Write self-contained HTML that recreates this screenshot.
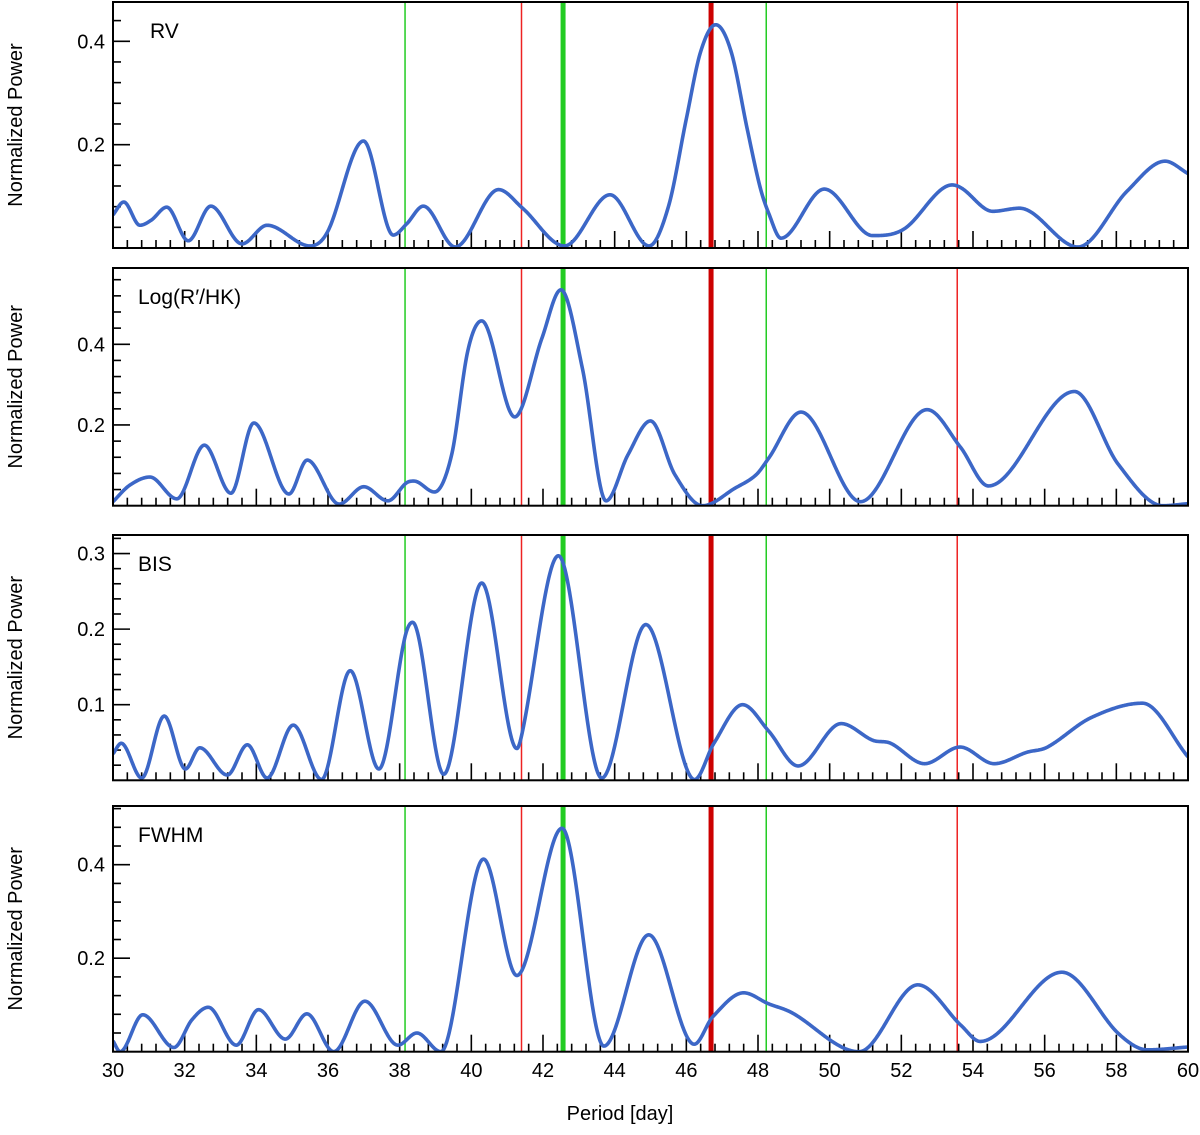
<!DOCTYPE html>
<html><head><meta charset="utf-8"><style>
html,body{margin:0;padding:0;background:#fff;}
svg{display:block;font-family:"Liberation Sans","DejaVu Sans",sans-serif;}
</style></head><body>
<svg id="chart" width="1200" height="1135" viewBox="0 0 1200 1135" xmlns="http://www.w3.org/2000/svg"></svg>
<script>
// ---- data ----
const rvPeriods = [30.0,30.3,30.75,31.07,31.5,32.1,32.73,33.6,34.3,35.5,36.0,36.99,37.82,38.2,38.66,39.55,40.76,41.43,42.6,43.87,44.96,45.5,46.0,46.4,46.82,47.25,47.7,48.05,48.3,48.64,49.85,51.2,52.08,53.42,53.7,54.55,55.3,56.93,58.3,59.36,60.0];
const rvPower   = [0.064,0.089,0.044,0.054,0.079,0.014,0.081,0.008,0.044,0.004,0.033,0.207,0.025,0.047,0.081,0.002,0.113,0.077,0.004,0.103,0.004,0.08,0.25,0.38,0.432,0.38,0.23,0.12,0.067,0.019,0.114,0.024,0.037,0.122,0.115,0.071,0.077,0.002,0.11,0.168,0.144];
const hkPeriods = [30.0,30.47,31.03,31.78,32.55,33.29,33.93,34.91,35.42,36.31,37.0,37.67,38.18,38.4,38.97,39.45,39.9,40.29,41.21,41.97,42.5,43.1,43.76,44.37,45.0,45.68,46.45,47.37,47.94,48.3,49.2,50.86,52.72,53.65,54.43,56.83,58.05,59.3,60.0];
const hkPower   = [0.01,0.051,0.071,0.017,0.15,0.031,0.205,0.029,0.113,0.004,0.047,0.012,0.056,0.061,0.034,0.126,0.383,0.458,0.22,0.415,0.535,0.34,0.012,0.126,0.21,0.077,0.0,0.044,0.076,0.118,0.232,0.01,0.238,0.145,0.049,0.283,0.103,0.0,0.005];
const bisPeriods = [30.0,30.23,30.8,31.43,32.02,32.42,33.19,33.75,34.3,35.03,35.82,36.62,37.42,38.14,38.36,39.23,40.29,41.27,41.42,42.43,43.64,44.87,46.23,46.77,47.57,48.3,49.12,50.32,51.2,51.7,52.65,53.64,54.59,55.5,56.08,57.3,58.73,60.0];
const bisPower   = [0.035,0.049,0.003,0.085,0.015,0.043,0.007,0.047,0.003,0.073,0.001,0.145,0.015,0.188,0.209,0.008,0.261,0.042,0.063,0.297,0.003,0.206,0.001,0.049,0.1,0.065,0.019,0.075,0.053,0.049,0.022,0.044,0.022,0.037,0.044,0.083,0.102,0.031];
const fwPeriods = [30.0,30.2,30.83,31.7,32.2,32.66,33.44,34.06,34.81,35.41,36.16,37.03,37.95,38.48,39.15,40.34,41.27,42.53,43.7,44.95,46.22,46.74,47.6,48.28,48.93,50.82,52.46,53.67,54.2,56.48,58.07,58.87,60.0];
const fwPower   = [0.023,0.0,0.079,0.009,0.068,0.095,0.014,0.09,0.027,0.081,0.0,0.108,0.014,0.04,0.0,0.412,0.163,0.478,0.012,0.25,0.016,0.075,0.126,0.103,0.084,0.0,0.143,0.056,0.022,0.17,0.038,0.004,0.01];
const panelLabels = ["RV","Log(R′/HK)","BIS","FWHM"];
const yTickLabels = [["0.2","0.4"],["0.2","0.4"],["0.1","0.2","0.3"],["0.2","0.4"]];
const yTickValues = [[0.2,0.4],[0.2,0.4],[0.1,0.2,0.3],[0.2,0.4]];
const xTickLabels = ["30","32","34","36","38","40","42","44","46","48","50","52","54","56","58","60"];
const markerPeriods = [38.15,41.4,42.56,46.69,48.23,53.56];
const markerColors = ["#22cc22","#ee2222","#22cc22","#cc0000","#22cc22","#ee2222"];
const markerWidths = [1.5,1.5,5,5,1.5,1.5];

// ---- layout ----
const NS="http://www.w3.org/2000/svg";
const svg=document.getElementById('chart');
const X0=113,X1=1188,D0=30,D1=60;
const xs=d=>X0+(d-D0)/(D1-D0)*(X1-X0);
const panels=[
 {top:2,bottom:248,ymax:0.476,minor:0.04,periods:rvPeriods,power:rvPower},
 {top:268,bottom:505.7,ymax:0.589,minor:0.04,periods:hkPeriods,power:hkPower},
 {top:535,bottom:780.3,ymax:0.3245,minor:0.02,periods:bisPeriods,power:bisPower},
 {top:806,bottom:1051.7,ymax:0.5256,minor:0.04,periods:fwPeriods,power:fwPower}
];
function mk(tag,attrs,parent){const e=document.createElementNS(NS,tag);for(const k in attrs)e.setAttribute(k,attrs[k]);(parent||svg).appendChild(e);return e;}

// smooth Hermite interpolation, flat tangents at local extrema
function smooth(xa,ya){
 const n=xa.length,m=new Array(n);
 m[0]=(ya[1]-ya[0])/(xa[1]-xa[0]);m[n-1]=(ya[n-1]-ya[n-2])/(xa[n-1]-xa[n-2]);
 for(let i=1;i<n-1;i++){
  const a=ya[i]-ya[i-1],b=ya[i+1]-ya[i];
  if(a*b<=0)m[i]=0; else m[i]=(ya[i+1]-ya[i-1])/(xa[i+1]-xa[i-1]);
 }
 return x=>{let i=0;while(i<n-2&&x>xa[i+1])i++;const h=xa[i+1]-xa[i],t=(x-xa[i])/h;
  const t2=t*t,t3=t2*t;return (2*t3-3*t2+1)*ya[i]+(t3-2*t2+t)*h*m[i]+(-2*t3+3*t2)*ya[i+1]+(t3-t2)*h*m[i+1];};
}

panels.forEach((p,pi)=>{
 const g=mk('g',{});
 
 
 const ys=v=>p.bottom-v/p.ymax*(p.bottom-p.top);
 const cid='clip'+pi;
 const cp=mk('clipPath',{id:cid},g);mk('rect',{x:X0,y:p.top,width:X1-X0,height:p.bottom-p.top},cp);
 markerPeriods.forEach((mp,i)=>{const l=mk('line',{x1:xs(mp),x2:xs(mp),y1:p.top,y2:p.bottom,stroke:markerColors[i],'stroke-width':markerWidths[i]},g);
  
  });
 for(let k=0;k<=75;k++){const d=D0+k*0.4;const major=(k%5===0);
  const t=mk('line',{x1:xs(d),x2:xs(d),y1:p.bottom,y2:p.bottom-(major?17:8),stroke:'#000','stroke-width':1.6},g);
  
  }
 const nmin=Math.floor(p.ymax/p.minor+1e-6);
 for(let k=1;k<=nmin;k++){const v=k*p.minor;const major=yTickValues[pi].some(t=>Math.abs(t-v)<1e-6);
  const t=mk('line',{x1:X0,x2:X0+(major?17:8),y1:ys(v),y2:ys(v),stroke:'#000','stroke-width':1.6},g);
  
  }
 yTickValues[pi].forEach((v,i)=>{const t=mk('text',{x:105,y:ys(v)+7,'text-anchor':'end','font-size':20,fill:'#000'},g);t.textContent=yTickLabels[pi][i];
  
  });
 const f=smooth(p.periods,p.power);let dstr='';
 for(let d=D0;d<=D1+1e-9;d+=0.02){const v=Math.max(0,f(d));dstr+=(dstr?'L':'M')+xs(d).toFixed(2)+','+ys(v).toFixed(2);}
 const path=mk('path',{d:dstr,fill:'none',stroke:'#3c67c7','stroke-width':3.6,'stroke-linejoin':'round','clip-path':'url(#'+cid+')'},g);
 
 
 const fr=mk('rect',{x:X0,y:p.top,width:X1-X0,height:p.bottom-p.top,fill:'none',stroke:'#000','stroke-width':2},g);
 
 
 const lb=mk('text',{x:pi===0?150:138,y:p.top+36,'font-size':21,fill:'#000'},g);lb.textContent=panelLabels[pi];
 
 
 const yc=(p.top+p.bottom)/2;
 const yt=mk('text',{x:22,y:yc,'font-size':20,'text-anchor':'middle',transform:'rotate(-90 22 '+yc+')',fill:'#000'},g);yt.textContent='Normalized Power';
 
 
});
xTickLabels.forEach((s,i)=>{const t=mk('text',{x:xs(30+2*i),y:1077,'text-anchor':'middle','font-size':20,fill:'#000'});t.textContent=s;
 
 });
const xt=mk('text',{x:620,y:1120,'text-anchor':'middle','font-size':20,fill:'#000'});xt.textContent='Period [day]';


</script>
</body></html>
